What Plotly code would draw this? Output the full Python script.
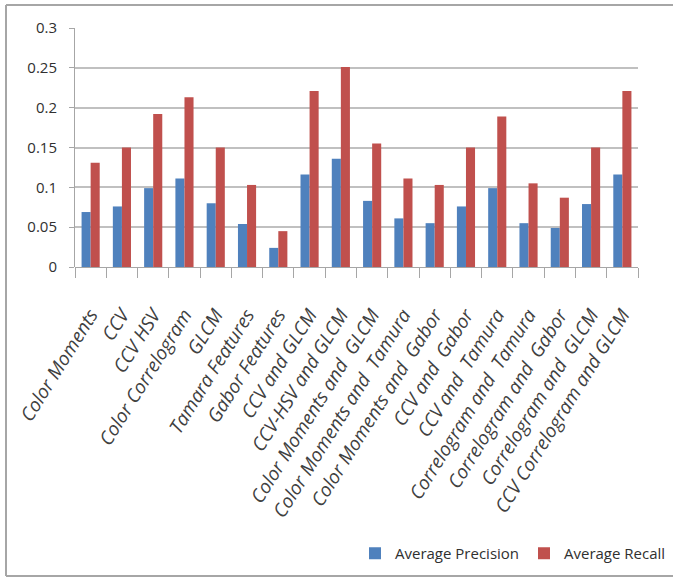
import plotly.graph_objects as go

NB = "\u00a0"
categories = [
    "Color Moments", "CCV", "CCV HSV", "Color Correlogram", "GLCM",
    "Tamara Features", "Gabor Features", "CCV and GLCM", "CCV-HSV and GLCM",
    "Color Moments and " + NB + "GLCM", "Color Moments and " + NB + "Tamura",
    "Color Moments and " + NB + "Gabor", "CCV and " + NB + "Gabor",
    "CCV and " + NB + "Tamura", "Correlogram and " + NB + "Tamura",
    "Correlogram and " + NB + "Gabor", "Correlogram and " + NB + "GLCM",
    "CCV Correlogram and GLCM",
]
avg_precision = [0.069, 0.076, 0.099, 0.111, 0.080, 0.054, 0.024, 0.116, 0.136,
                 0.083, 0.061, 0.055, 0.076, 0.099, 0.055, 0.049, 0.079, 0.116]
avg_recall = [0.131, 0.150, 0.192, 0.213, 0.150, 0.103, 0.045, 0.221, 0.251,
              0.155, 0.111, 0.103, 0.150, 0.189, 0.105, 0.087, 0.150, 0.221]
y_ticks = [0, 0.05, 0.1, 0.15, 0.2, 0.25, 0.3]

fig = go.Figure()
fig.add_trace(go.Bar(x=categories, y=avg_precision, name="Average Precision",
                     marker=dict(color="#4F81BD", line=dict(width=0))))
fig.add_trace(go.Bar(x=categories, y=avg_recall, name="Average Recall",
                     marker=dict(color="#C0504D", line=dict(width=0))))

L, R, T, B = 75, 35, 28, 312
W, H = 673, 579
pw, ph = W - L - R, H - T - B

def px(x):
    return (x - L) / pw

def py(y):
    return (H - B - y) / ph

border = dict(color="#a6a6a6", width=2)
frame = [
    dict(type="line", xref="paper", yref="paper", x0=px(6), x1=px(6),
         y0=py(576), y1=py(5), line=border, layer="below"),
    dict(type="line", xref="paper", yref="paper", x0=px(6), x1=px(673),
         y0=py(5), y1=py(5), line=border, layer="below"),
    dict(type="line", xref="paper", yref="paper", x0=px(6), x1=px(673),
         y0=py(576), y1=py(576), line=border, layer="below"),
]

fig.update_layout(
    width=W, height=H,
    margin=dict(l=L, r=R, t=T, b=B, autoexpand=False),
    paper_bgcolor="white", plot_bgcolor="white",
    barmode="group", bargap=0.42, bargroupgap=0,
    font=dict(family="Open Sans", color="#404040"),
    showlegend=True,
    legend=dict(orientation="h", xref="container", yref="container",
                x=355 / W, y=1 - 537 / H, xanchor="left", yanchor="top",
                font=dict(size=15, color="#303030"), entrywidth=124,
                itemwidth=30, bgcolor="rgba(0,0,0,0)"),
    xaxis=dict(
        automargin=False,
        tickangle=-58, tickfont=dict(size=19, style="italic", color="#404040"),
        ticks="outside", tickson="boundaries", ticklen=10, tickcolor="#a6a6a6",
        showline=False, showgrid=False, ticklabelstandoff=32,
    ),
    yaxis=dict(
        automargin=False,
        range=[0, 0.3], tickvals=y_ticks, ticks="outside", ticklen=5,
        tickcolor="#a6a6a6", showline=True, linecolor="#a6a6a6", linewidth=1,
        gridcolor="#c0c0c0", gridwidth=2, zeroline=True, zerolinecolor="#a6a6a6",
        zerolinewidth=1, tickfont=dict(size=15, color="#303030"),
        ticklabelstandoff=9,
    ),
    shapes=frame,
)

fig.write_html("out.html", config={"displayModeBar": False},
               post_script="document.body.style.margin='0px';document.body.style.overflow='hidden';")
